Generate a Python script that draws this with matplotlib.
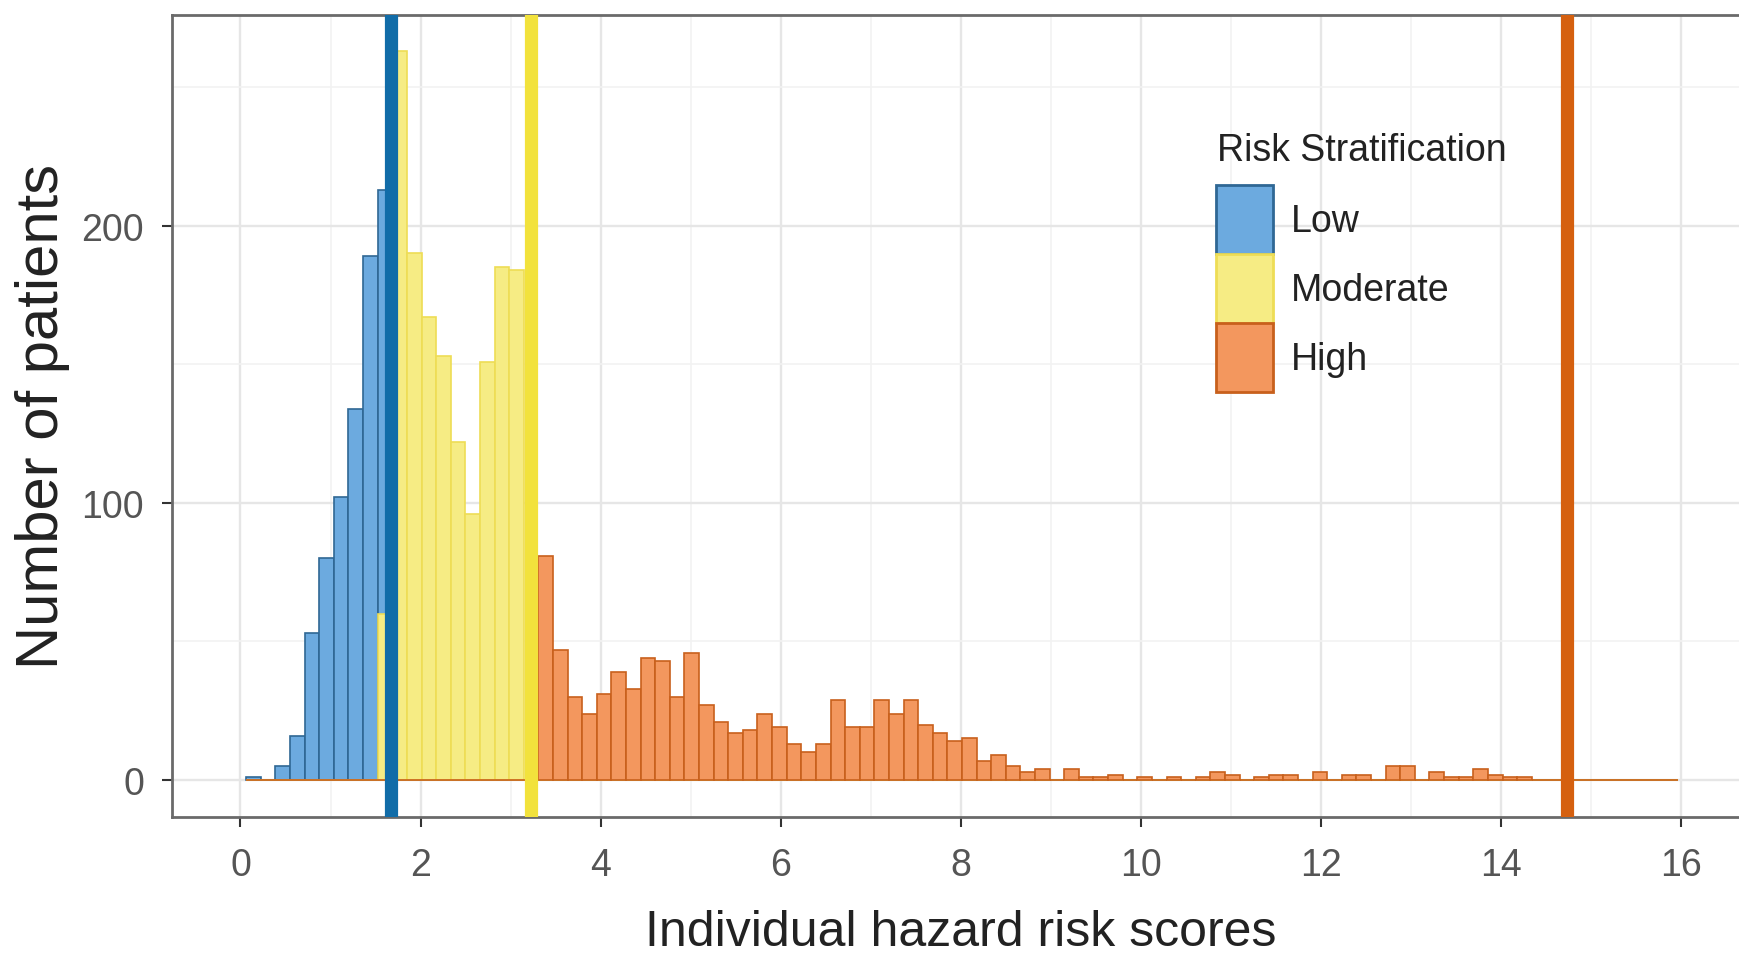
import numpy as np
import matplotlib
matplotlib.use("Agg")
import matplotlib.pyplot as plt
from matplotlib.patches import Patch
from matplotlib.ticker import MultipleLocator

plt.rcParams["font.family"] = ["Liberation Sans", "DejaVu Sans"]

# histogram bins (shared by the three groups)
bin_start = 0.064
bin_width = 0.1622
n_bins = 98

# counts per bin (the bin under the moderate cut-off is hidden)
low_counts = [1, 0, 5, 16, 53, 80, 102, 134, 189, 213] + [0] * 88
moderate_counts = [0] * 9 + [60, 263, 190, 167, 153, 122, 96, 151, 185, 184, 0] + [0] * 78
high_counts = [0] * 20 + [
    81, 47, 30, 24, 31, 39, 33, 44, 43, 30,
    46, 27, 21, 17, 18, 24, 19, 13, 10, 13,
    29, 19, 19, 29, 24, 29, 20, 17, 14, 15,
    7, 9, 5, 3, 4, 0, 4, 1, 1, 2,
    0, 1, 0, 1, 0, 1, 3, 2, 0, 1,
    2, 2, 0, 3, 0, 2, 2, 0, 5, 5,
    0, 3, 1, 1, 4, 2, 1, 1,
] + [0] * 10

# cut-off lines
cutoffs = [1.67, 3.225, 14.73]
groups = ["Low", "Moderate", "High"]

fills = ["#6caadf", "#f6ec84", "#f3975e"]
edges = ["#2f6794", "#eedd55", "#c8601c"]
vline_colors = ["#116ca8", "#f2e23c", "#d5600f"]

lefts = bin_start + bin_width * np.arange(n_bins)

fig = plt.figure(figsize=(17.39, 9.54), dpi=100)
ax = fig.add_axes([172 / 1739, 1 - 817.5 / 954, (1749 - 172) / 1739, 802 / 954])

for counts, fc, ec in zip([low_counts, moderate_counts, high_counts], fills, edges):
    ax.bar(lefts, counts, width=bin_width, align="edge", color=fc,
           edgecolor=ec, linewidth=1.2, zorder=2)

for x, c in zip(cutoffs, vline_colors):
    ax.axvline(x, color=c, linewidth=9.5, zorder=3)

ax.set_xlim(-0.76, 16.75)
ax.set_ylim(-13.15, 276.2)
ax.xaxis.set_major_locator(MultipleLocator(2))
ax.xaxis.set_minor_locator(MultipleLocator(1))
ax.yaxis.set_major_locator(MultipleLocator(100))
ax.yaxis.set_minor_locator(MultipleLocator(50))
ax.grid(which="major", color="#e6e6e6", linewidth=1.7, zorder=0)
ax.grid(which="minor", color="#f2f2f2", linewidth=1.2, zorder=0)
ax.set_axisbelow(True)
ax.tick_params(which="minor", length=0)
ax.tick_params(which="major", colors="#333333", labelcolor="#555555",
               labelsize=27, length=7, width=1.5)
ax.tick_params(axis="x", pad=15)
ax.tick_params(axis="y", pad=13)

for s in ax.spines.values():
    s.set_color("#6a6a6a")
    s.set_linewidth(2)

ax.set_xlabel("Individual hazard risk scores", fontsize=36, color="#222222", labelpad=19)
ax.set_ylabel("Number of patients", fontsize=43, color="#222222", labelpad=8)

handles = [Patch(facecolor=fc, edgecolor=ec, linewidth=2) for fc, ec in zip(fills, edges)]
leg = ax.legend(handles, groups, loc="upper left",
                bbox_to_anchor=(1216 / 1739, 1 - 186 / 954), bbox_transform=fig.transFigure,
                frameon=False, fontsize=27, handlelength=1.51,
                handleheight=2.45, labelspacing=0.0, handletextpad=0.5,
                borderpad=0, borderaxespad=0)
for t in leg.get_texts():
    t.set_color("#222222")
fig.text(1217 / 1739, 1 - 161 / 954, "Risk Stratification", fontsize=27,
         color="#222222", ha="left", va="baseline")

fig.savefig("out.png", dpi=100)
